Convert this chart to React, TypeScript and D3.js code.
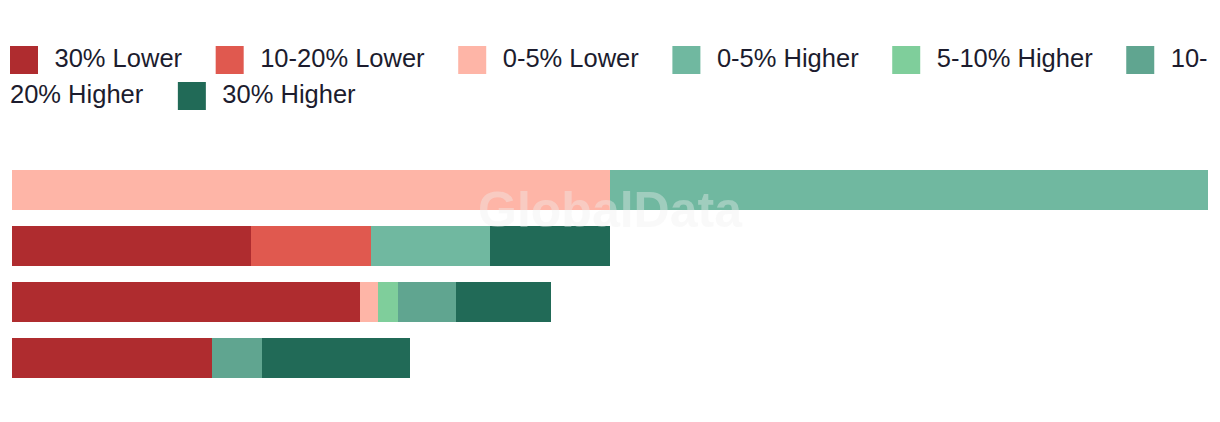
import React, { useEffect, useRef } from "react";
import * as d3 from "d3";

// ---- data ----
const categories = ["Row 1", "Row 2", "Row 3", "Row 4"];
const seriesNames = [
  "30% Lower",
  "10-20% Lower",
  "0-5% Lower",
  "0-5% Higher",
  "5-10% Higher",
  "10-20% Higher",
  "30% Higher",
];
const seriesColors = [
  "#AF2C2F",
  "#E0594F",
  "#FEB5A7",
  "#70B8A0",
  "#7FCE9B",
  "#60A590",
  "#216A57",
];
// values per series, one per category
const lower30 = [0, 20, 29.1, 16.7];
const lower10_20 = [0, 10, 0, 0];
const lower0_5 = [50, 0, 1.5, 0];
const higher0_5 = [50, 10, 0, 0];
const higher5_10 = [0, 0, 1.7, 0];
const higher10_20 = [0, 0, 4.8, 4.2];
const higher30 = [0, 10, 8.0, 12.4];
const xMax = 100;
const watermark = "GlobalData";

const W = 1220;
const H = 422;

export default function App() {
  const ref = useRef<SVGSVGElement>(null);

  useEffect(() => {
    const svg = d3.select(ref.current);
    svg.selectAll("*").remove();

    const seriesValues = [lower30, lower10_20, lower0_5, higher0_5, higher5_10, higher10_20, higher30];
    const rows = categories.map((c, i) => {
      const r: any = { cat: c };
      seriesNames.forEach((s, j) => (r[s] = seriesValues[j][i]));
      return r;
    });
    const stacked = d3.stack().keys(seriesNames)(rows);

    const x = d3.scaleLinear().domain([0, xMax]).range([12, 1208]);
    const y = d3
      .scaleBand()
      .domain(categories)
      .range([162, 386])
      .paddingInner(16 / 56)
      .paddingOuter(8 / 56);
    const color = d3.scaleOrdinal<string, string>().domain(seriesNames).range(seriesColors);

    const g = svg.append("g");
    stacked.forEach((layer) => {
      g.append("g")
        .attr("fill", color(layer.key))
        .selectAll("rect")
        .data(layer.filter((d) => d[1] - d[0] > 0))
        .join("rect")
        .attr("x", (d) => x(d[0]))
        .attr("y", (d: any) => y(d.data.cat)!)
        .attr("width", (d) => x(d[1]) - x(d[0]))
        .attr("height", y.bandwidth())
        .attr("shape-rendering", "crispEdges");
    });

    // watermark
    svg
      .append("text")
      .attr("x", 610)
      .attr("y", 227)
      .attr("text-anchor", "middle")
      .attr("font-family", "'Liberation Sans', Arial, sans-serif")
      .attr("font-weight", "bold")
      .attr("font-size", 50)
      .attr("fill", "#eeeeee")
      .attr("fill-opacity", 0.38)
      .text(watermark);

    // legend (flow layout with wrapping)
    const legend = svg.append("g");
    const fontSize = 25.5;
    const sq = 28;
    const textGap = 16.5;
    const itemGap = 33.6;
    const left = 10;
    const right = 1212;
    const rowH = 36;
    let cx = left;
    let row = 0;
    const baseline0 = 66.5;
    const measure = (t: string) => {
      const tmp = legend
        .append("text")
        .attr("font-family", "'Liberation Sans', Arial, sans-serif")
        .attr("font-size", fontSize)
        .text(t);
      const w = (tmp.node() as SVGTextElement).getComputedTextLength();
      tmp.remove();
      return w;
    };
    const addText = (t: string, tx: number, r: number) => {
      legend
        .append("text")
        .attr("x", tx)
        .attr("y", baseline0 + r * rowH)
        .attr("font-family", "'Liberation Sans', Arial, sans-serif")
        .attr("font-size", fontSize)
        .attr("fill", "#1c1c2e")
        .text(t);
    };
    const addSwatch = (sx: number, r: number, c: string) => {
      legend
        .append("rect")
        .attr("x", sx)
        .attr("y", baseline0 + r * rowH - 20.5)
        .attr("width", sq)
        .attr("height", sq)
        .attr("fill", c);
    };
    seriesNames.forEach((name, i) => {
      const tw = measure(name);
      if (cx + sq + textGap + tw > right && cx > left) {
        // break at hyphen like the browser does
        const hy = name.indexOf("-");
        const pre = hy >= 0 ? name.slice(0, hy + 1) : "";
        if (pre && cx + sq + textGap + measure(pre) <= right) {
          addSwatch(cx, row, seriesColors[i]);
          addText(pre, cx + sq + textGap, row);
          row += 1;
          const rest = name.slice(hy + 1);
          addText(rest, left, row);
          cx = left + measure(rest) + itemGap + 1;
          return;
        }
        row += 1;
        cx = left;
      }
      addSwatch(cx, row, seriesColors[i]);
      addText(name, cx + sq + textGap, row);
      cx = cx + sq + textGap + tw + itemGap;
    });
  }, []);

  return (
    <svg
      ref={ref}
      width={W}
      height={H}
      style={{ position: "absolute", left: 0, top: 0, background: "#ffffff" }}
    />
  );
}
